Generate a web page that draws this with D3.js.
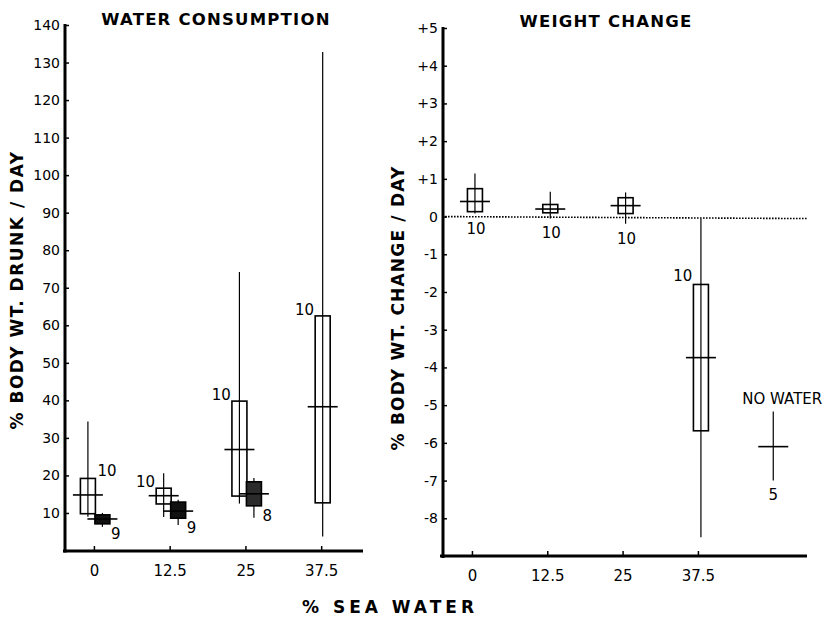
<!DOCTYPE html>
<html>
<head>
<meta charset="utf-8">
<script src="https://cdn.jsdelivr.net/npm/d3@7"></script>
<style>
    body { margin: 0; background: #fff; }
    svg { display: block; font-family: "DejaVu Sans", sans-serif; }
</style>
</head>
<body>
<div id="graph"></div>
<script>
const seaWater = [0, 12.5, 25, 37.5];

// water consumption, open boxes
const waterOpenMean = [14.8, 14.6, 26.9, 38.3];
const waterOpenLow = [9.8, 12.4, 14.5, 12.7];
const waterOpenHigh = [19.2, 16.6, 39.8, 62.5];
const waterOpenMin = [9.0, 8.9, 12.5, 3.7];
const waterOpenMax = [34.4, 20.6, 74.2, 132.8];
const waterOpenN = [10, 10, 10, 10];

// water consumption, filled boxes
const waterFilledMean = [8.4, 10.5, 15.1];
const waterFilledLow = [7.1, 8.6, 11.9];
const waterFilledHigh = [9.5, 12.9, 18.3];
const waterFilledMin = [6.3, 6.8, 8.7];
const waterFilledMax = [10.0, 13.5, 19.3];
const waterFilledN = [9, 9, 8];

// weight change
const weightMean = [0.4, 0.2, 0.29, -3.74];
const weightLow = [0.13, 0.1, 0.08, -5.68];
const weightHigh = [0.74, 0.32, 0.5, -1.8];
const weightMin = [0.08, -0.05, -0.19, -8.5];
const weightMax = [1.14, 0.66, 0.64, -0.06];
const weightN = [10, 10, 10, 10];

const noWaterMean = [-6.1];
const noWaterMin = [-7.0];
const noWaterMax = [-5.17];
const noWaterN = [5];

const leftTicks = [10, 20, 30, 40, 50, 60, 70, 80, 90, 100, 110, 120, 130, 140];
const rightTicks = [5, 4, 3, 2, 1, 0, -1, -2, -3, -4, -5, -6, -7, -8];
const xTickLabels = ["0", "12.5", "25", "37.5"];

const width = 833, height = 619;
const boxW = 15, meanW = 30;

const svg = d3.select("#graph")
    .append("svg")
    .attr("width", width)
    .attr("height", height);

const toRows = (mean, low, high, min, max, n) => mean.map((m, i) => ({
    x: seaWater[i], mean: m, low: low[i], high: high[i], min: min[i], max: max[i], n: n[i]
}));

// ---------- left panel ----------
const xLeft = d3.scaleLinear().domain([-5.1, 44.4]).range([63, 363]);
const yLeft = d3.scaleLinear().domain([0, 140]).range([550.5, 25]);

const drawYAxis = (scale, xPos, ticks, fmt) => {
    const g = svg.append("g")
        .attr("transform", "translate(" + xPos + ",0)")
        .call(d3.axisLeft(scale)
            .tickValues(ticks)
            .tickFormat(fmt)
            .tickSizeInner(-4)
            .tickSizeOuter(0)
            .tickPadding(5));
    g.select(".domain").remove();
    g.selectAll(".tick line").attr("stroke", "#000").attr("stroke-width", 1.5);
    g.selectAll(".tick text")
        .attr("font-size", 14)
        .attr("fill", "#000")
        .attr("font-family", "DejaVu Sans");
    svg.append("line")
        .attr("x1", xPos).attr("x2", xPos)
        .attr("y1", scale.range()[1] - 1)
        .attr("y2", scale.range()[0] + 2)
        .attr("stroke", "#000")
        .attr("stroke-width", 3);
};

const drawXAxis = (scale, yPos) => {
    const g = svg.append("g")
        .attr("transform", "translate(0," + yPos + ")")
        .call(d3.axisBottom(scale)
            .tickValues(seaWater)
            .tickFormat((d, i) => xTickLabels[i])
            .tickSizeInner(-5)
            .tickSizeOuter(0)
            .tickPadding(14));
    g.select(".domain").remove();
    g.selectAll(".tick line").attr("stroke", "#000").attr("stroke-width", 1.5);
    g.selectAll(".tick text")
        .attr("font-size", 15)
        .attr("fill", "#000")
        .attr("font-family", "DejaVu Sans");
    svg.append("line")
        .attr("x1", scale.range()[0]).attr("x2", scale.range()[1])
        .attr("y1", yPos).attr("y2", yPos)
        .attr("stroke", "#000")
        .attr("stroke-width", 3);
};

const drawBoxes = (rows, xScale, yScale, dx, fill, cls) => {
    const g = svg.append("g").attr("class", cls);
    // range lines
    g.selectAll("line.range")
        .data(rows)
        .enter().append("line")
        .attr("class", "range")
        .attr("x1", (d) => xScale(d.x) + dx(d))
        .attr("x2", (d) => xScale(d.x) + dx(d))
        .attr("y1", (d) => yScale(d.max))
        .attr("y2", (d) => yScale(d.min))
        .attr("stroke", "#000")
        .attr("stroke-width", 1.2);
    if (rows[0].low !== undefined) {
        g.selectAll("rect")
            .data(rows)
            .enter().append("rect")
            .attr("x", (d) => xScale(d.x) + dx(d) - boxW / 2)
            .attr("y", (d) => yScale(d.high))
            .attr("width", boxW)
            .attr("height", (d) => yScale(d.low) - yScale(d.high))
            .attr("fill", fill)
            .attr("stroke", "#000")
            .attr("stroke-width", 1.6);
    }
    g.selectAll("line.mean")
        .data(rows)
        .enter().append("line")
        .attr("class", "mean")
        .attr("x1", (d) => xScale(d.x) + dx(d) - meanW / 2)
        .attr("x2", (d) => xScale(d.x) + dx(d) + meanW / 2)
        .attr("y1", (d) => yScale(d.mean))
        .attr("y2", (d) => yScale(d.mean))
        .attr("stroke", "#000")
        .attr("stroke-width", 1.6);
    return g;
};

const nLabel = (g, rows, xFn, yFn, anchor) => {
    g.selectAll("text.n")
        .data(rows)
        .enter().append("text")
        .attr("class", "n")
        .attr("x", xFn)
        .attr("y", yFn)
        .attr("text-anchor", anchor)
        .attr("dominant-baseline", "central")
        .attr("font-size", 15)
        .attr("fill", "#000")
        .text((d) => d.n);
};

drawYAxis(yLeft, 65, leftTicks, d3.format("d"));
drawXAxis(xLeft, 551);

const waterOpen = toRows(waterOpenMean, waterOpenLow, waterOpenHigh, waterOpenMin, waterOpenMax, waterOpenN);
const waterFilled = toRows(waterFilledMean, waterFilledLow, waterFilledHigh, waterFilledMin, waterFilledMax, waterFilledN);
const openDx = (d) => (waterFilled.some((f) => f.x === d.x) ? -6 : 1.5);
const filledDx = () => 8.5;

const gOpen = drawBoxes(waterOpen, xLeft, yLeft, openDx, "none", "open");
const gFilled = drawBoxes(waterFilled, xLeft, yLeft, filledDx, "#111", "filled");
gFilled.selectAll("rect").filter((d) => d.x === 25).attr("fill", "#2b2b2b");

nLabel(gOpen, waterOpen.filter((d) => d.x === 0),
    (d) => xLeft(d.x) + openDx(d) + boxW / 2 + 2, (d) => yLeft(d.high) - 7, "start");
nLabel(gOpen.append("g"), waterOpen.filter((d) => d.x !== 0),
    (d) => xLeft(d.x) + openDx(d) - boxW / 2 - 1, (d) => yLeft(d.high) - 6, "end");
nLabel(gFilled, waterFilled,
    (d) => xLeft(d.x) + filledDx(d) + boxW / 2 + 1, (d) => yLeft(d.low) + 10, "start");

svg.append("text")
    .attr("x", 216).attr("y", 25)
    .attr("text-anchor", "middle")
    .attr("font-size", 16.5).attr("font-weight", "bold")
    .attr("letter-spacing", 1.2)
    .text("WATER  CONSUMPTION");

svg.append("text")
    .attr("transform", "translate(23,290) rotate(-90)")
    .attr("text-anchor", "middle")
    .attr("font-size", 17).attr("font-weight", "bold")
    .attr("letter-spacing", 1.5)
    .text("% BODY WT. DRUNK / DAY");

// ---------- right panel ----------
const xRight = d3.scaleLinear().domain([-5.3, 55.6]).range([440, 807]);
const yRight = d3.scaleLinear().domain([-9, 5]).range([556, 28]);

drawYAxis(yRight, 443, rightTicks, (d) => (d > 0 ? "+" + d : d3.format("d")(d).replace("−", "-")));
drawXAxis(xRight, 556);

svg.append("line")
    .attr("x1", 445).attr("x2", xRight.range()[1])
    .attr("y1", yRight(0)).attr("y2", yRight(0) + 2)
    .attr("stroke", "#000")
    .attr("stroke-width", 1.6)
    .attr("stroke-dasharray", "1.6,1.4");

const weight = toRows(weightMean, weightLow, weightHigh, weightMin, weightMax, weightN);
const weightDx = () => 3;
const gWeight = drawBoxes(weight, xRight, yRight, weightDx, "none", "weight");
nLabel(gWeight, weight.filter((d) => d.x < 37.5),
    (d) => xRight(d.x) + weightDx(d) + 1, (d) => yRight(d.min) + 15, "middle");
nLabel(gWeight.append("g"), weight.filter((d) => d.x === 37.5),
    (d) => xRight(d.x) + weightDx(d) - boxW / 2 - 1, (d) => yRight(d.high) - 8, "end");

const noWater = noWaterMean.map((m, i) => ({
    x: 50, mean: m, min: noWaterMin[i], max: noWaterMax[i], n: noWaterN[i]
}));
const gNoWater = drawBoxes(noWater, xRight, yRight, () => 0, "none", "nowater");
nLabel(gNoWater, noWater, (d) => xRight(d.x), (d) => yRight(d.min) + 14, "middle");
gNoWater.append("text")
    .attr("x", xRight(50) + 9)
    .attr("y", yRight(noWater[0].max) - 13)
    .attr("text-anchor", "middle")
    .attr("dominant-baseline", "central")
    .attr("font-size", 15)
    .text("NO WATER");

svg.append("text")
    .attr("x", 606).attr("y", 27)
    .attr("text-anchor", "middle")
    .attr("font-size", 16.5).attr("font-weight", "bold")
    .attr("letter-spacing", 1.2)
    .text("WEIGHT  CHANGE");

svg.append("text")
    .attr("transform", "translate(404,308) rotate(-90)")
    .attr("text-anchor", "middle")
    .attr("font-size", 17).attr("font-weight", "bold")
    .attr("letter-spacing", 1.2)
    .text("% BODY WT. CHANGE / DAY");

svg.append("text")
    .attr("x", 390).attr("y", 613)
    .attr("text-anchor", "middle")
    .attr("font-size", 17).attr("font-weight", "bold")
    .attr("letter-spacing", 4)
    .text("%  SEA  WATER");
</script>
</body>
</html>
